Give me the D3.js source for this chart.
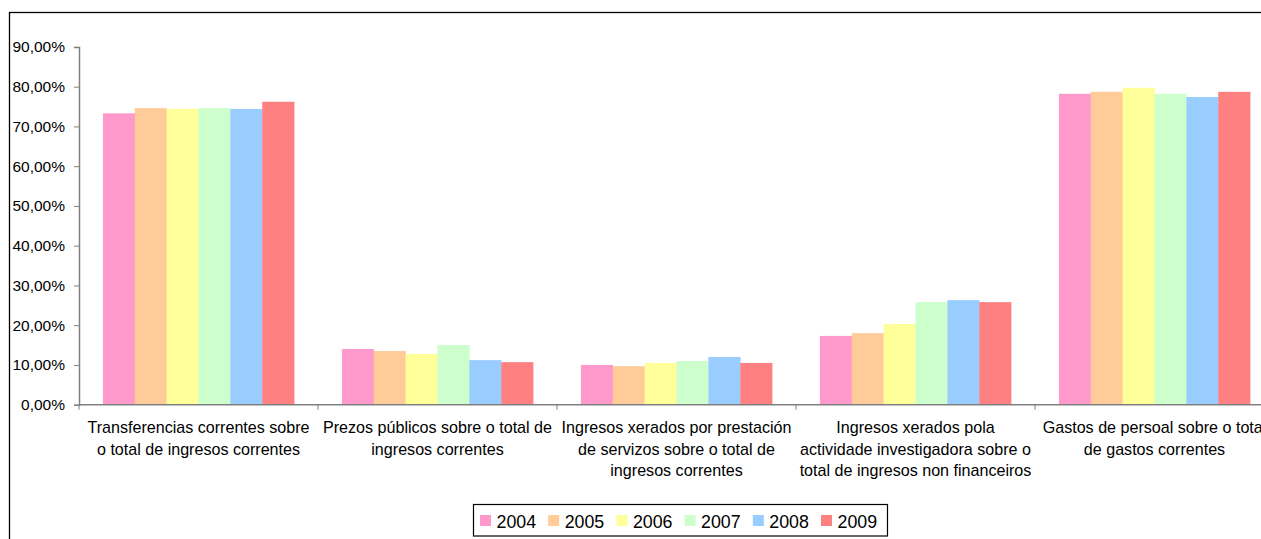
<!DOCTYPE html>
<html><head><meta charset="utf-8">
<script src="https://cdn.jsdelivr.net/npm/d3@7"></script>
<style>
html,body{margin:0;padding:0;background:#fff;overflow:hidden;}
svg{display:block;font-family:Arial,"Liberation Sans",sans-serif;}
</style></head>
<body>
<svg id="c" width="1261" height="539"></svg>
<script>
const categories = [
  ["Transferencias correntes sobre","o total de ingresos correntes"],
  ["Prezos públicos sobre o total de","ingresos correntes"],
  ["Ingresos xerados por prestación","de servizos sobre o total de","ingresos correntes"],
  ["Ingresos xerados pola","actividade investigadora sobre o","total de ingresos non financeiros"],
  ["Gastos de persoal sobre o total","de gastos correntes"]
];
const years = ["2004","2005","2006","2007","2008","2009"];
const colors = ["#FF99CC","#FFCC99","#FFFF99","#CCFFCC","#99CCFF","#FF8080"];
const v2004 = [73.3, 14.0, 10.0, 17.3, 78.2];
const v2005 = [74.6, 13.5, 9.7, 18.0, 78.7];
const v2006 = [74.4, 12.75, 10.5, 20.3, 79.7];
const v2007 = [74.6, 15.0, 11.0, 25.8, 78.2];
const v2008 = [74.4, 11.2, 12.0, 26.3, 77.4];
const v2009 = [76.2, 10.7, 10.5, 25.8, 78.7];
const series = [v2004, v2005, v2006, v2007, v2008, v2009];
const yTicks = [0,10,20,30,40,50,60,70,80,90];

const svg = d3.select("#c");
// outer chart border (extends beyond the visible area)
svg.append("rect").attr("x",9.5).attr("y",12.5).attr("width",1400).attr("height",700)
  .attr("fill","none").attr("stroke","#000").attr("stroke-width",1.3);

const x0 = 79, bandW = 239;
const xCat = d3.scaleBand().domain(d3.range(categories.length)).range([x0, x0 + bandW*categories.length]).padding(0);
const gap = bandW/(years.length + 1.5) * 0.75;
const xYear = d3.scaleBand().domain(d3.range(years.length)).range([gap, bandW - gap]).padding(0);
const y = d3.scaleLinear().domain([0, 90]).range([404.7, 46.9]);

// bars
years.forEach((yr, si) => {
  svg.append("g").selectAll("rect").data(series[si]).join("rect")
    .attr("x", (d,i) => xCat(i) + xYear(si))
    .attr("width", xYear.bandwidth()+0.3)
    .attr("y", d => y(d))
    .attr("height", d => y(0) - y(d))
    .attr("fill", colors[si]);
});

// y axis
const fmt = d => d.toFixed(2).replace(".", ",") + "%";
const yAxis = d3.axisLeft(y).tickValues(yTicks).tickFormat(fmt).tickSize(5).tickPadding(9);
const gy = svg.append("g").attr("transform",`translate(${x0},0)`).call(yAxis);
gy.select(".domain").attr("stroke","#808080").attr("stroke-width",1.5);
gy.selectAll(".tick line").attr("stroke","#808080");
gy.selectAll(".tick text").attr("font-size",15.5).attr("fill","#000").attr("font-family",'Arial,"Liberation Sans",sans-serif');

// x axis line and boundary ticks
svg.append("line").attr("x1",x0).attr("x2",1300).attr("y1",y(0)).attr("y2",y(0))
  .attr("stroke","#808080").attr("stroke-width",1.5);
svg.append("g").selectAll("line").data(d3.range(categories.length+1)).join("line")
  .attr("x1", i => x0 + i*bandW).attr("x2", i => x0 + i*bandW)
  .attr("y1", y(0)).attr("y2", y(0)+5).attr("stroke","#808080");

// category labels
const lab = svg.append("g").attr("font-size",16.1).attr("text-anchor","middle").attr("fill","#000");
categories.forEach((lines, i) => {
  const t = lab.append("text").attr("x", xCat(i) + bandW/2);
  lines.forEach((ln, k) => t.append("tspan").attr("x", xCat(i) + bandW/2).attr("y", 433 + k*21.5).text(ln));
});

// legend
const lg = svg.append("g");
lg.append("rect").attr("x",473.5).attr("y",504.5).attr("width",414).attr("height",31.5)
  .attr("fill","#fff").attr("stroke","#000").attr("stroke-width",1.2);
years.forEach((yr, i) => {
  lg.append("rect").attr("x",480 + i*68.2).attr("y",515).attr("width",11).attr("height",11).attr("fill",colors[i]);
  lg.append("text").attr("x",496.5 + i*68.2).attr("y",527.5).attr("font-size",17.8).attr("fill","#000").text(yr);
});
</script>
</body></html>
